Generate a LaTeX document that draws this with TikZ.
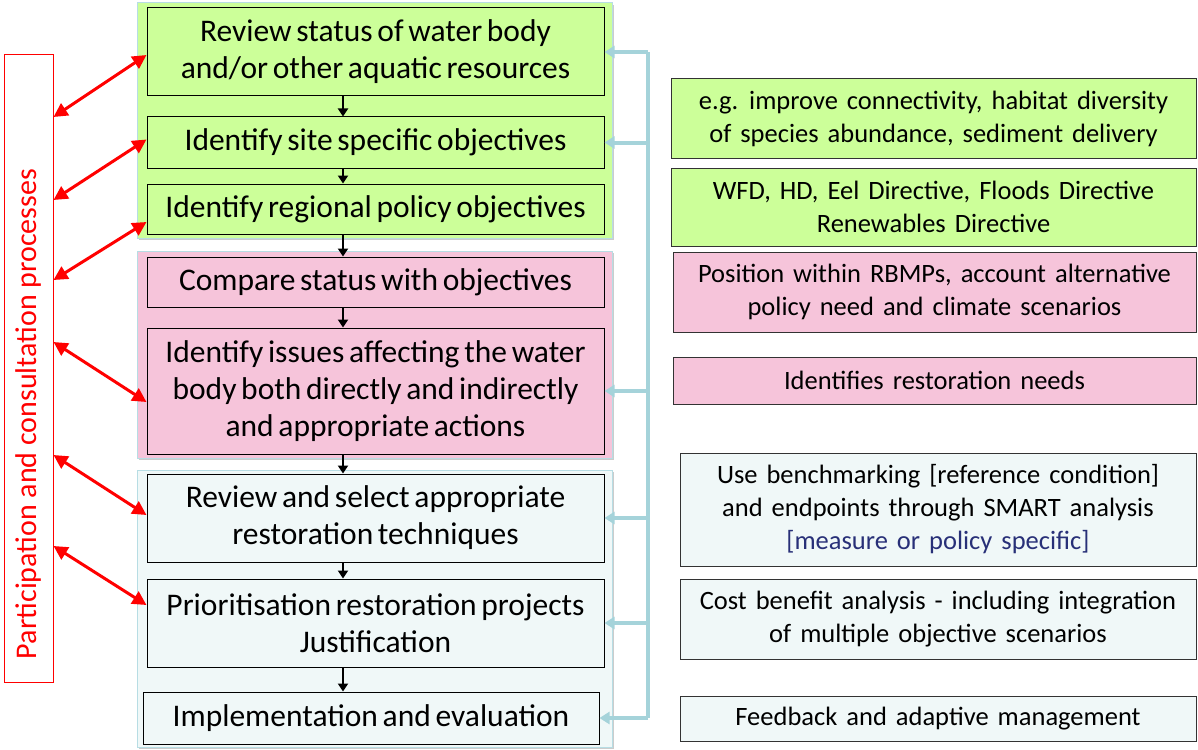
\documentclass[tikz,border=0pt]{standalone}
\usepackage{fontspec}
\setmainfont{Carlito}
\usepackage{tikz}
\usetikzlibrary{arrows.meta,shadows}
\definecolor{stepgreen}{RGB}{204,255,153}
\definecolor{steppink}{RGB}{246,196,218}
\definecolor{steplight}{RGB}{240,248,248}
\definecolor{bgedge}{RGB}{183,221,228}
\definecolor{feedblue}{RGB}{165,211,218}
\definecolor{navytext}{RGB}{40,48,120}

\begin{document}
\begin{tikzpicture}[x=1pt,y=-1pt,
    stepbox/.style={draw=black,line width=1pt,minimum width=457pt,align=center,inner sep=0pt,font={\fontsize{31.5}{37}\selectfont\spaceskip=0.15em}},
    notebox/.style={draw=black!80,line width=1pt,align=center,inner sep=0pt,font={\fontsize{26.5}{33}\selectfont\spaceskip=0.34em}},
    phase/.style={draw=bgedge,line width=1pt,drop shadow={shadow xshift=2pt,shadow yshift=-2pt,opacity=0.4}},
    flowarr/.style={-{Triangle[length=8pt,width=10pt]},line width=2.2pt},
    talkarr/.style={{Triangle[length=14pt,width=14pt]}-{Triangle[length=14pt,width=14pt]},red,line width=3pt},
    feedarr/.style={-{Triangle[length=10pt,width=12pt]},feedblue,line width=4pt}]
        \useasboundingbox (0,0) rectangle (1198,749);
        \draw[phase,fill=stepgreen] (137,3) rectangle (612,238);
        \draw[phase,fill=steppink] (137,251) rectangle (612,458);
        \draw[phase,fill=steplight] (137,470) rectangle (612,747);
        \node[stepbox,fill=stepgreen,minimum height=88pt] (b1) at (375.5,52) {Review status of water body\\and/or other aquatic resources};
        \node[stepbox,fill=stepgreen,minimum height=51pt] (b2) at (375.5,142.5) {Identify site specific objectives};
        \node[stepbox,fill=stepgreen,minimum height=50pt] (b3) at (375.5,209) {Identify regional policy objectives};
        \node[stepbox,fill=steppink,minimum height=50pt] (p1) at (375.5,282) {Compare status with objectives};
        \node[stepbox,fill=steppink,minimum height=126pt] (p2) at (375.5,391) {Identify issues affecting the water\\body both directly and indirectly\\and appropriate actions};
        \node[stepbox,fill=steplight,minimum height=88pt] (c1) at (375.5,518) {Review and select appropriate\\restoration techniques};
        \node[stepbox,fill=steplight,minimum height=88pt] (c2) at (375.5,623) {Prioritisation restoration projects\\Justification};
        \node[stepbox,fill=steplight,minimum height=52pt,minimum width=456pt] (c3) at (371,718) {Implementation and evaluation};
        \node[notebox,fill=stepgreen,minimum width=525pt,minimum height=79pt] (r1) at (933.5,118.5) {e.g. improve connectivity, habitat diversity\\of species abundance, sediment delivery};
        \node[notebox,fill=stepgreen,minimum width=525pt,minimum height=78pt] (r2) at (933.5,207) {WFD, HD, Eel Directive, Floods Directive\\Renewables Directive};
        \node[notebox,fill=steppink,minimum width=523pt,minimum height=80pt] (r3) at (934.5,292) {Position within RBMPs, account alternative\\policy need and climate scenarios};
        \node[notebox,fill=steppink,minimum width=523pt,minimum height=47pt] (r4) at (934.5,380.5) {Identifies restoration needs};
        \node[notebox,fill=steplight,minimum width=516pt,minimum height=113pt] (r5) at (938,509.5) {Use benchmarking [reference condition]\\and endpoints through SMART analysis\\{\color{navytext}[measure or policy specific]}};
        \node[notebox,fill=steplight,minimum width=516pt,minimum height=80pt] (r6) at (938,619) {Cost benefit analysis - including integration\\of multiple objective scenarios};
        \node[notebox,fill=steplight,minimum width=516pt,minimum height=45pt] (r7) at (938,718.5) {Feedback and adaptive management};
        \node[draw=red,line width=1pt,minimum width=49pt,minimum height=627pt] (partic) at (28.5,368.5) {};
        \node[rotate=90,text=red,inner sep=0pt,font={\fontsize{30}{37}\selectfont}] (particlbl) at (29,414) {Participation and consultation processes};
        \coordinate (spine) at (343,0);
        \coordinate (rail) at (648,0);
        \foreach \a/\b in {b1/b2,b2/b3,b3/p1,p1/p2,p2/c1,c1/c2,c2/c3}
            \draw[flowarr] (\a.south -| spine) -- (\b.north -| spine);
        \foreach \y/\t/\s in {117/b1/-3,200/b2/3,280/b3/-13,342/p2/-11,455/c1/3,546/c2/18}
            \draw[talkarr] (partic.east |- 0,\y) -- ([yshift=\s pt]\t.west);
        \draw[feedblue,line width=4pt] (b1.east -| rail) -- (c3.east -| rail);
        \foreach \t in {b1,b2,p2,c1,c2,c3}
            \draw[feedarr] (\t.east -| rail) -- (\t.east);
    \end{tikzpicture}
\end{document}
